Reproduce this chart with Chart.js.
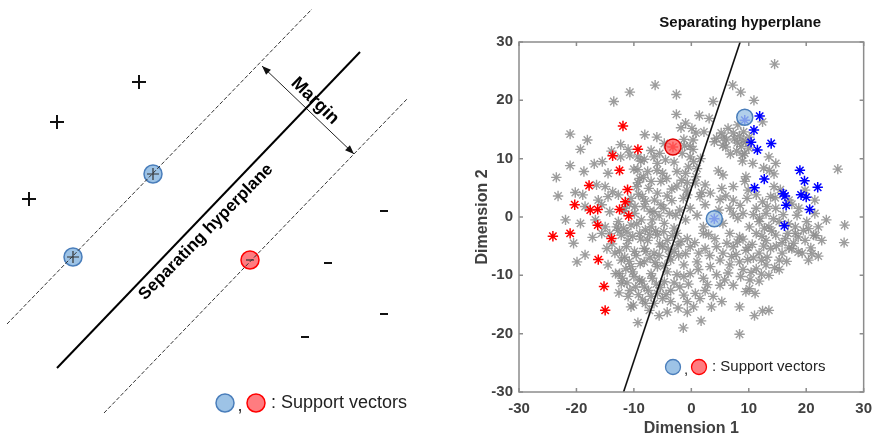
<!DOCTYPE html>
<html>
<head>
<meta charset="utf-8">
<script src="https://cdn.jsdelivr.net/npm/chart.js@4.4.0/dist/chart.umd.min.js"></script>
<style>
  body { margin: 0; background: #fff; }
  .wrap { position: relative; width: 880px; height: 439px; }
  canvas { position: absolute; top: 0; }
  #svm { left: 0; }
  #tsne { left: 440px; }
</style>
</head>
<body>
<div class="wrap">
  <canvas id="svm" width="440" height="439"></canvas>
  <canvas id="tsne" width="440" height="439"></canvas>
</div>
<script>
// ---- left: SVM sketch (drawing units, y grows downward) ----
const plusPoints = [[139, 82], [57, 122], [29, 199]];
const minusPoints = [[384, 211], [328, 263], [384, 314], [305, 337]];
const plusSupport = [[153, 174], [73, 257]];
const minusSupport = [[250, 260]];
const upperMargin = [[7, 324], [312, 9]];
const hyperplane = [[57, 368], [360, 52]];
const lowerMargin = [[104, 413], [408, 98]];
const marginArrow = [[262, 66], [354, 154]];

// ---- right: embedding scatter ----
const axisTicks = [-30, -20, -10, 0, 10, 20, 30];
const hyperplane2d = [[-11.8, -30], [8.5, 30]];
const supportBlue = [[9.3, 17.1], [4.0, -0.3]];
const supportRed = [[-3.2, 12.0]];
const classA = [ // red
  [-11.9, 15.6], [-9.3, 11.6], [-13.7, 10.5], [-12.5, 8.0], [-11.1, 4.7], [-17.8, 5.4],
  [-11.5, 2.6], [-20.3, 2.1], [-17.6, 1.2], [-16.3, 1.3], [-12.5, 1.3], [-10.9, 0.2],
  [-16.3, -1.4], [-24.1, -3.3], [-21.1, -2.8], [-13.9, -3.7], [-16.2, -7.3], [-15.2, -11.9],
  [-15.0, -16.0], [-3.2, 12.0]
];
const classB = [ // blue
  [9.3, 16.6], [11.9, 17.3], [10.9, 14.9], [10.4, 12.8], [11.5, 11.5], [13.9, 12.6],
  [11.0, 5.0], [12.7, 6.5], [18.9, 8.0], [19.7, 6.2], [22.0, 5.1], [16.0, 4.0], [16.3, 3.6],
  [19.1, 3.8], [20.0, 3.4], [16.5, 2.0], [20.6, 1.3], [16.2, -1.5], [4.0, -0.3]
];
const others = [ // grey
  [14.5, 26.2], [-6.3, 22.6], [7.2, 22.6], [-10.7, 21.4], [-2.6, 21.0], [8.6, 21.4], [-13.5, 19.8], [3.8, 19.8], [10.9, 20.0],
  [-2.6, 17.6], [1.4, 17.4], [3.1, 16.9], [-1.0, 16.1], [0.1, 15.2], [6.4, 15.2], [8.1, 15.8], [12.4, 16.3],
  [-21.1, 14.2], [-8.1, 14.1], [-6.0, 13.7], [-1.8, 15.3], [0.8, 14.4], [2.2, 14.6], [4.4, 13.5], [5.7, 13.7], [7.3, 14.4], [8.4, 13.9], [9.1, 14.6], [10.1, 13.7],
  [-18.1, 13.2], [-19.3, 11.6], [-12.3, 12.4], [-11.0, 11.6], [-13.9, 11.3], [-4.7, 12.6], [-1.3, 13.3], [-0.2, 12.1], [0.3, 13.2], [4.0, 12.9], [5.5, 12.3], [6.1, 13.2], [8.0, 12.7], [8.7, 12.1], [9.5, 12.9],
  [-21.1, 8.8], [-16.9, 9.1], [-15.5, 9.5], [-12.3, 10.3], [-10.7, 10.6], [-9.3, 10.3], [-8.2, 9.9], [-6.5, 10.3], [-5.9, 9.2], [-4.5, 9.8], [-1.6, 10.9], [-0.2, 10.3], [0.4, 9.5], [-0.5, 8.6], [8.9, 10.6], [13.5, 10.3], [14.7, 9.2], [10.7, 9.2],
  [-23.5, 6.8], [-18.7, 7.8], [-14.5, 7.5], [-9.3, 8.1], [-7.6, 7.8], [-9.0, 6.6], [-5.0, 7.5], [-2.5, 7.8], [-1.0, 7.5], [1.0, 8.3], [4.7, 7.9], [5.5, 7.2], [9.5, 6.9], [14.4, 7.4], [25.5, 8.2],
  [-20.2, 4.2], [-16.5, 5.5], [-15.0, 5.2], [-13.7, 4.3], [-9.3, 5.9], [-7.0, 6.1], [-5.3, 6.1], [-2.5, 5.3], [-0.7, 5.9], [0.7, 5.8], [2.4, 5.5], [5.3, 4.9], [7.3, 5.2], [9.3, 6.1], [9.9, 4.6], [14.4, 5.2], [15.5, 4.7], [19.8, 4.6],
  [-23.2, 3.6], [-18.9, 3.8], [-16.2, 2.9], [-14.5, 3.5], [-12.7, 3.8], [-10.5, 3.2], [-8.5, 3.5], [-5.9, 4.1], [-4.2, 3.6], [-0.7, 3.8], [1.5, 3.5], [3.3, 4.1], [5.0, 3.0], [7.3, 2.9], [11.3, 3.8], [12.4, 2.6], [13.8, 3.5], [17.0, 2.9], [21.5, 2.9],
  [-18.5, 1.8], [-15.6, 2.1], [-14.2, 0.9], [-11.6, 1.5], [-9.9, 0.6], [-8.2, 1.8], [-6.5, 0.9], [-5.3, 2.1], [-2.7, 0.3], [-0.2, 1.5], [1.0, 0.3], [2.4, 2.1], [6.7, 1.5], [9.0, 0.6], [11.3, 1.5], [13.0, 0.6], [14.7, 1.5], [18.7, 1.5], [21.5, 0.6],
  [-21.9, -0.5], [-19.3, -1.1], [-16.7, -0.5], [-15.0, -1.7], [-12.7, -0.8], [-10.5, -1.4], [-8.7, -0.5], [-7.0, -1.7], [-4.7, -1.1], [-3.0, -1.9], [-1.0, -0.5], [2.1, -1.7], [5.5, -1.1], [8.1, -0.2], [10.1, -1.7], [11.8, -0.8], [13.5, -1.7], [15.3, -0.8], [18.1, -1.7], [20.1, -0.8], [22.1, -1.7], [23.5, -0.5], [26.7, -1.4],
  [-20.5, -4.5], [-17.2, -3.5], [-15.6, -2.8], [-12.2, -3.1], [-11.0, -4.0], [-9.0, -2.8], [-7.6, -4.0], [-5.9, -3.1], [-4.2, -4.0], [-2.5, -2.8], [-0.7, -3.7], [2.1, -2.8], [4.1, -3.7], [6.7, -2.8], [8.4, -3.4], [11.3, -2.8], [13.0, -4.0], [14.7, -3.1], [16.4, -3.7], [18.1, -2.8], [19.8, -4.0], [21.3, -3.1], [22.7, -4.0], [26.6, -4.4],
  [-18.5, -6.5], [-14.7, -5.4], [-13.3, -6.2], [-11.3, -5.1], [-9.9, -5.9], [-8.2, -5.4], [-6.5, -6.2], [-5.0, -5.1], [-3.0, -5.9], [-0.2, -5.1], [2.4, -5.4], [4.4, -5.1], [5.5, -6.2], [7.3, -5.1], [9.5, -5.7], [11.8, -6.2], [13.8, -5.4], [15.8, -6.2], [17.5, -5.4], [19.3, -6.2], [22.1, -6.7],
  [-19.9, -7.7], [-14.5, -8.2], [-12.2, -7.4], [-10.5, -8.5], [-8.2, -7.7], [-5.9, -8.5], [-3.6, -7.4], [-1.3, -8.2], [1.0, -7.7], [3.3, -8.5], [5.0, -7.4], [6.7, -8.2], [8.4, -7.7], [11.3, -8.9], [13.0, -8.2], [15.3, -7.4], [20.4, -7.4],
  [-12.5, -9.7], [-10.2, -9.4], [-9.0, -10.8], [-7.0, -9.7], [-4.7, -11.1], [-2.5, -9.9], [-1.3, -10.2], [-0.2, -9.7], [2.1, -10.5], [4.4, -9.9], [5.8, -10.8], [7.3, -11.7], [10.4, -9.5], [13.5, -10.0], [15.3, -9.0],
  [-12.2, -11.4], [-10.7, -12.6], [-8.2, -12.0], [-5.9, -13.1], [-3.6, -12.6], [-1.3, -13.4], [0.7, -13.1], [2.4, -12.6], [5.0, -11.7], [10.1, -12.3], [11.1, -13.1],
  [-10.5, -15.4], [-8.5, -14.2], [-6.5, -14.8], [-5.0, -14.0], [-3.6, -14.5], [-0.7, -14.5], [1.5, -14.0], [3.5, -15.4], [5.3, -14.5], [8.4, -15.4], [11.0, -16.9], [12.4, -16.1], [13.5, -16.0],
  [-9.3, -18.1], [-5.6, -16.9], [-0.7, -16.3], [-1.4, -19.0], [1.7, -17.8], [8.4, -20.1], [-10.1, -15.1],
  // denser core of the left cloud
  [-12.8, -2.3], [-11.8, -1.9], [-11.2, -2.6], [-10.2, -3.3], [-9.5, -1.2], [-8.8, -3.8], [-8.0, -2.2], [-7.3, -3.0], [-6.8, -0.5], [-6.2, -2.4], [-5.5, -4.6], [-4.8, -2.5], [-4.0, -5.5], [-3.3, -3.2],
  [-12.5, -5.8], [-11.6, -6.9], [-10.8, -7.6], [-9.6, -6.6], [-8.9, -8.0], [-7.9, -5.9], [-7.2, -7.0], [-6.3, -7.8], [-5.6, -6.6], [-4.6, -8.3], [-3.8, -6.8], [-2.2, -6.6], [-1.8, -4.2],
  [-12.0, -10.5], [-11.2, -11.3], [-9.7, -12.0], [-8.6, -11.0], [-7.5, -12.6], [-6.8, -10.5], [-5.4, -12.1], [-4.2, -9.4],
  [-11.4, -8.9], [-10.0, -10.2], [-9.2, -13.3], [-8.0, -14.8], [-7.0, -13.6], [-6.1, -11.5], [-4.4, -13.3], [-3.0, -11.3], [-2.0, -12.0], [-0.5, -11.5],
  [1.2, -9.0], [2.8, -11.6], [3.8, -13.6], [0.4, -15.4], [-2.3, -15.6], [-4.2, -16.3], [-7.3, -16.0], [-11.0, -13.6], [-12.6, -13.0], [-13.2, -9.7],
  [-13.8, -4.6], [-13.0, -1.7], [-14.2, -2.9], [-2.3, -4.8], [-1.0, -6.3], [0.6, -4.4], [1.3, -6.2], [3.2, -6.6], [3.0, -3.0],
  [-11.7, 1.0], [-10.8, 2.2], [-9.8, 1.8], [-9.2, 3.9], [-8.0, 2.7], [-7.2, 1.0], [-6.4, 2.9], [-5.6, 0.2], [-4.8, 1.5], [-3.8, 0.6], [-3.4, 2.8], [-2.0, 1.2], [-1.4, 3.2],
  [-9.5, 5.2], [-8.3, 6.8], [-7.4, 4.9], [-6.0, 8.0], [-4.3, 6.6], [-3.4, 4.8], [-1.7, 6.3], [-0.8, 4.6], [-10.0, 8.2], [-8.8, 9.6], [-7.0, 11.4], [-5.5, 10.9], [-3.0, 9.4], [-1.2, 12.2], [0.3, 11.6], [1.6, 10.0], [0.8, 6.9], [1.8, 4.2],
  // right cloud
  [6.2, -4.5], [7.8, -6.4], [9.0, -3.8], [10.6, -4.7], [12.3, -3.3], [13.2, -6.9], [14.0, -2.4], [15.8, -4.4], [16.9, -1.2], [17.8, -4.5], [18.6, -6.0], [19.5, -2.3], [20.8, -5.3], [21.7, -3.2],
  [12.2, -9.8], [10.2, -10.8], [8.6, -10.2], [9.5, -12.8], [11.9, -0.2], [13.2, 1.8], [14.6, 3.3], [16.0, 0.4], [17.5, 2.2], [18.4, 0.3], [7.3, 0.5], [8.5, 2.0], [9.7, 3.2], [10.8, 0.4], [6.0, 3.6], [4.8, 1.2],
  [9.8, -7.3], [10.8, -7.0], [12.2, -7.4], [14.5, -8.7], [16.6, -7.6], [17.0, -5.3], [18.6, -3.4], [20.4, -2.0], [21.0, -6.3], [14.8, -5.0], [12.6, -5.0], [9.9, -5.2], [8.0, -4.3], [7.0, -6.8],
  [6.4, -9.6], [9.0, -9.0], [11.8, -11.0], [14.3, -0.3], [16.8, -2.8], [12.7, -1.9],
  [6.0, 12.0], [6.8, 10.8], [7.9, 11.3], [8.9, 9.6], [9.3, 10.9], [10.0, 11.8], [12.6, 8.4], [13.6, 8.0], [9.0, 13.1], [7.5, 13.4], [5.2, 14.4]
];

const pts = arr => arr.map(([x, y]) => ({ x, y }));
const textFont = '"Liberation Sans", Arial, sans-serif';

// labels, arrow heads and key for the sketch
const sketchDecor = {
  id: 'sketchDecor',
  afterDatasetsDraw(chart) {
    const { ctx, scales: { x, y } } = chart;
    const px = p => [x.getPixelForValue(p[0]), y.getPixelForValue(p[1])];
    ctx.save();

    // arrow heads on both ends of the margin marker
    const [a, b] = marginArrow.map(px);
    const ang = Math.atan2(b[1] - a[1], b[0] - a[0]);
    const head = (tip, dir) => {
      ctx.beginPath();
      ctx.moveTo(tip[0], tip[1]);
      ctx.lineTo(tip[0] - 9 * Math.cos(dir) + 3.5 * Math.sin(dir), tip[1] - 9 * Math.sin(dir) - 3.5 * Math.cos(dir));
      ctx.lineTo(tip[0] - 9 * Math.cos(dir) - 3.5 * Math.sin(dir), tip[1] - 9 * Math.sin(dir) + 3.5 * Math.cos(dir));
      ctx.closePath();
      ctx.fill();
    };
    ctx.fillStyle = '#111';
    head(b, ang);
    head(a, ang + Math.PI);

    const rotText = (txt, p, deg, font) => {
      const [tx, ty] = px(p);
      ctx.save();
      ctx.translate(tx, ty);
      ctx.rotate(deg * Math.PI / 180);
      ctx.font = font;
      ctx.textAlign = 'center';
      ctx.textBaseline = 'middle';
      ctx.fillStyle = '#000';
      ctx.fillText(txt, 0, 0);
      ctx.restore();
    };
    rotText('Separating hyperplane', [206, 232], -45.5, 'bold 17px ' + textFont);
    rotText('Margin', [315, 101], 44, 'bold 18px ' + textFont);

    // key
    const circle = (cx, cy, fill, stroke) => {
      ctx.beginPath();
      ctx.arc(cx, cy, 9, 0, Math.PI * 2);
      ctx.fillStyle = fill;
      ctx.fill();
      ctx.lineWidth = 1.5;
      ctx.strokeStyle = stroke;
      ctx.stroke();
    };
    const [kx, ky] = px([225, 403]);
    circle(kx, ky, '#9dc3e6', '#4a7ebb');
    circle(kx + 31, ky, '#ff7c80', '#ff0000');
    ctx.fillStyle = '#222';
    ctx.font = '18px ' + textFont;
    ctx.textAlign = 'center';
    ctx.textBaseline = 'middle';
    ctx.fillText(',', kx + 15, ky + 3);
    ctx.textAlign = 'left';
    ctx.fillText(': Support vectors', kx + 46, ky);
    ctx.restore();
  }
};

new Chart(document.getElementById('svm'), {
  type: 'scatter',
  data: {
    datasets: [
      { data: pts(plusSupport), pointStyle: 'cross', pointRadius: 6, pointBorderColor: '#333', pointBorderWidth: 1.2, order: 0 },
      { data: pts(minusSupport), pointStyle: 'line', pointRadius: 4, pointBorderColor: '#333', pointBorderWidth: 1.2, order: 0 },
      { type: 'line', data: pts(upperMargin), borderColor: '#333', borderWidth: 1, borderDash: [4, 2], pointRadius: 0, order: 1 },
      { type: 'line', data: pts(lowerMargin), borderColor: '#333', borderWidth: 1, borderDash: [4, 2], pointRadius: 0, order: 1 },
      { type: 'line', data: pts(hyperplane), borderColor: '#000', borderWidth: 2, pointRadius: 0, order: 1 },
      { type: 'line', data: pts(marginArrow), borderColor: '#222', borderWidth: 1, pointRadius: 0, order: 1 },
      { data: pts(plusSupport), pointStyle: 'circle', pointRadius: 9, pointBackgroundColor: '#9dc3e6', pointBorderColor: '#4a7ebb', pointBorderWidth: 1.5, order: 2 },
      { data: pts(minusSupport), pointStyle: 'circle', pointRadius: 9, pointBackgroundColor: '#ff7c80', pointBorderColor: '#ff0000', pointBorderWidth: 1.5, order: 2 },
      { data: pts(plusPoints), pointStyle: 'cross', pointRadius: 7, pointBorderColor: '#111', pointBorderWidth: 2, order: 3 },
      { data: pts(minusPoints), pointStyle: 'line', pointRadius: 4, pointBorderColor: '#111', pointBorderWidth: 2, order: 3 }
    ]
  },
  options: {
    responsive: false,
    animation: false,
    events: [],
    clip: false,
    layout: { padding: 0, autoPadding: false },
    plugins: { legend: { display: false }, tooltip: { enabled: false } },
    scales: {
      x: { type: 'linear', min: 0, max: 440, display: false },
      y: { type: 'linear', min: 0, max: 439, reverse: true, display: false }
    }
  },
  plugins: [sketchDecor]
});

// box, inward ticks, title and key for the scatter
const plotDecor = {
  id: 'plotDecor',
  afterDatasetsDraw(chart) {
    const { ctx, chartArea: a, scales: { x, y } } = chart;
    ctx.save();
    ctx.strokeStyle = '#8c8c8c';
    ctx.lineWidth = 1.5;
    ctx.strokeRect(a.left, a.top, a.right - a.left, a.bottom - a.top);
    ctx.beginPath();
    axisTicks.forEach(v => {
      const tx = x.getPixelForValue(v), ty = y.getPixelForValue(v);
      ctx.moveTo(tx, a.bottom); ctx.lineTo(tx, a.bottom - 4);
      ctx.moveTo(tx, a.top); ctx.lineTo(tx, a.top + 4);
      ctx.moveTo(a.left, ty); ctx.lineTo(a.left + 4, ty);
      ctx.moveTo(a.right, ty); ctx.lineTo(a.right - 4, ty);
    });
    ctx.stroke();

    // title sits over the top end of the hyperplane
    const top = hyperplane2d[1];
    ctx.fillStyle = '#111';
    ctx.font = 'bold 15px ' + textFont;
    ctx.textAlign = 'center';
    ctx.textBaseline = 'middle';
    ctx.fillText('Separating hyperplane', x.getPixelForValue(top[0]), a.top - 19);

    // key
    const kx = a.left + 154, ky = a.bottom - 25;
    const circle = (cx, fill, stroke) => {
      ctx.beginPath();
      ctx.arc(cx, ky, 7.5, 0, Math.PI * 2);
      ctx.fillStyle = fill;
      ctx.fill();
      ctx.lineWidth = 1.3;
      ctx.strokeStyle = stroke;
      ctx.stroke();
    };
    circle(kx, '#9dc3e6', '#4a7ebb');
    circle(kx + 26, '#ff7c80', '#ff0000');
    ctx.fillStyle = '#222';
    ctx.font = '15px ' + textFont;
    ctx.fillText(',', kx + 13, ky + 3);
    ctx.textAlign = 'left';
    ctx.fillText(': Support vectors', kx + 39, ky);
    ctx.restore();
  }
};

const tickFont = { family: textFont, size: 15, weight: 'bold' };
new Chart(document.getElementById('tsne'), {
  type: 'scatter',
  data: {
    datasets: [
      { data: pts(supportBlue), pointStyle: 'circle', pointRadius: 8, pointBackgroundColor: 'rgba(157,195,230,0.8)', pointBorderColor: '#4a7ebb', pointBorderWidth: 1.5, order: 0 },
      { data: pts(supportRed), pointStyle: 'circle', pointRadius: 8, pointBackgroundColor: 'rgba(255,100,100,0.8)', pointBorderColor: '#e00000', pointBorderWidth: 1.5, order: 0 },
      { type: 'line', data: pts(hyperplane2d), borderColor: '#111', borderWidth: 1.6, pointRadius: 0, order: 1 },
      { data: pts(classB), pointStyle: 'star', pointRadius: 5.2, pointBorderColor: '#0000ff', pointBorderWidth: 1.5, order: 2 },
      { data: pts(classA), pointStyle: 'star', pointRadius: 5.2, pointBorderColor: '#ff0000', pointBorderWidth: 1.5, order: 2 },
      { data: pts(others), pointStyle: 'star', pointRadius: 5.2, pointBorderColor: 'rgba(140,140,140,0.85)', pointBorderWidth: 1.4, order: 3 }
    ]
  },
  options: {
    responsive: false,
    animation: false,
    events: [],
    layout: { padding: { top: 42, right: 11, left: 0, bottom: 0 }, autoPadding: false },
    plugins: { legend: { display: false }, tooltip: { enabled: false } },
    scales: {
      x: {
        type: 'linear', min: -30, max: 30,
        afterFit: s => { s.height = 47; },
        afterBuildTicks: s => { s.ticks = axisTicks.map(v => ({ value: v })); },
        grid: { display: false, drawTicks: false },
        border: { display: false },
        ticks: { font: tickFont, color: '#404040', padding: 8, maxRotation: 0 },
        title: { display: true, text: 'Dimension 1', font: { family: textFont, size: 16, weight: 'bold' }, color: '#404040', padding: { top: 0, bottom: 1 } }
      },
      y: {
        type: 'linear', min: -30, max: 30,
        afterFit: s => { s.width = 79; },
        afterBuildTicks: s => { s.ticks = axisTicks.map(v => ({ value: v })); },
        grid: { display: false, drawTicks: false },
        border: { display: false },
        ticks: { font: tickFont, color: '#404040', padding: 6 },
        title: { display: true, text: 'Dimension 2', font: { family: textFont, size: 16, weight: 'bold' }, color: '#404040', padding: { top: 33, bottom: 0 } }
      }
    }
  },
  plugins: [plotDecor]
});
</script>
</body>
</html>
